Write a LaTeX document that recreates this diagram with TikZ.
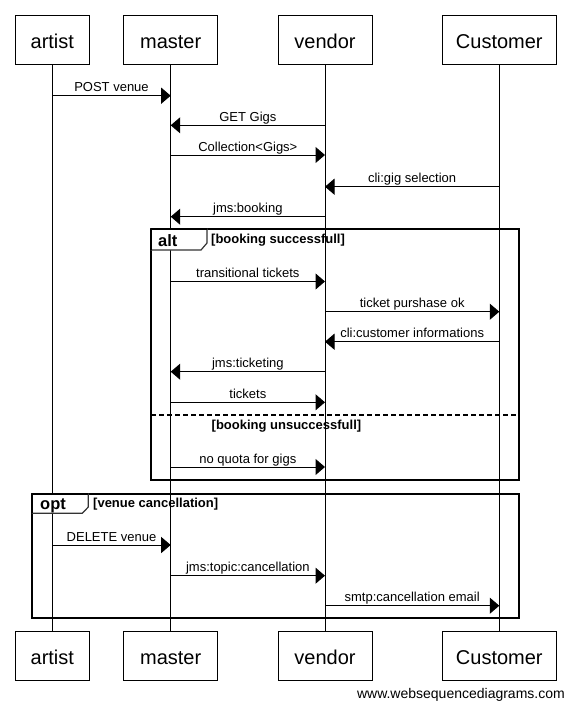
\documentclass[tikz,border=0pt]{standalone}
\usepackage{fontspec}
\setmainfont{Liberation Sans}
\usetikzlibrary{arrows.meta}
\begin{document}
\begin{tikzpicture}[x=1pt,y=-1pt,
  part/.style={draw=black, line width=1pt, fill=white, minimum height=49pt, inner sep=0pt, text height=17pt, text depth=0pt, font=\fontsize{20}{24}\selectfont},
  life/.style={line width=1pt},
  msg/.style={line width=1pt, -{Triangle[length=9.5pt,width=16pt]}},
  lbl/.style={anchor=base, yshift=4pt, inner sep=0pt, font=\fontsize{13}{15}\selectfont},
  frm/.style={line width=2pt},
  tabshape/.style={draw=black!80, line width=1.2pt, fill=white},
  tabtxt/.style={anchor=base west, inner sep=0pt, font=\fontsize{16.5}{19}\selectfont\bfseries},
  cond/.style={anchor=base west, inner sep=0pt, font=\fontsize{13}{15}\selectfont\bfseries}
]
\useasboundingbox (0,0) rectangle (572,715);
% participants top
\node[part, minimum width=74pt] (A) at (52.3,39.5) {artist};
\node[part, minimum width=94pt] (M) at (170.7,39.5) {master};
\node[part, minimum width=94pt] (V) at (325,39.5) {vendor};
\node[part, minimum width=114pt] (C) at (499.3,39.5) {Customer};
% participants bottom
\node[part, minimum width=74pt] (Ab) at (52.3,656) {artist};
\node[part, minimum width=94pt] (Mb) at (170.7,656) {master};
\node[part, minimum width=94pt] (Vb) at (325,656) {vendor};
\node[part, minimum width=114pt] (Cb) at (499.3,656) {Customer};
% lifelines
\draw[life] (A.south) -- (Ab.north);
\draw[life] (M.south) -- (Mb.north);
\draw[life] (V.south) -- (Vb.north);
\draw[life] (C.south) -- (Cb.north);
% alt frame
\draw[frm] (151,229) rectangle (519,479.5);
\path[tabshape] (151,229) -- (207,229) -- (207,243) -- (201,250) -- (151,250) -- cycle;
\draw[frm] (151,229) -- (207,229);
\draw[frm] (151,229) -- (151,250);
\node[tabtxt] (altt) at (158,246) {alt};
\node[cond] (altc1) at (211,243) {[booking successfull]};
\draw[line width=2pt, dash pattern=on 5pt off 3pt] (151,415) -- (519,415);
\node[cond] (altc2) at (211.5,429.5) {[booking unsuccessfull]};
% opt frame
\draw[frm] (32.3,494) rectangle (519,618.3);
\path[tabshape] (32.3,494) -- (88.3,494) -- (88.3,507) -- (82.3,513.3) -- (32.3,513.3) -- cycle;
\draw[frm] (32.3,494) -- (88.3,494);
\draw[frm] (32.3,494) -- (32.3,513.3);
\node[tabtxt] (optt) at (40,509) {opt};
\node[cond] (optc) at (93,507.7) {[venue cancellation]};
% messages
\draw[msg] (A |- 0,95.7) -- (M |- 0,95.7) node[midway, lbl] {POST venue};
\draw[msg] (V |- 0,125.3) -- (M |- 0,125.3) node[midway, lbl] {GET Gigs};
\draw[msg] (M |- 0,155) -- (V |- 0,155) node[midway, lbl] {Collection<Gigs>};
\draw[msg] (C |- 0,186.7) -- (V |- 0,186.7) node[midway, lbl] {cli:gig selection};
\draw[msg] (V |- 0,216.7) -- (M |- 0,216.7) node[midway, lbl] {jms:booking};
\draw[msg] (M |- 0,281.5) -- (V |- 0,281.5) node[midway, lbl] {transitional tickets};
\draw[msg] (V |- 0,311.7) -- (C |- 0,311.7) node[midway, lbl] {ticket purshase ok};
\draw[msg] (C |- 0,341.7) -- (V |- 0,341.7) node[midway, lbl] {cli:customer informations};
\draw[msg] (V |- 0,371.7) -- (M |- 0,371.7) node[midway, lbl] {jms:ticketing};
\draw[msg] (M |- 0,402.3) -- (V |- 0,402.3) node[midway, lbl] {tickets};
\draw[msg] (M |- 0,467) -- (V |- 0,467) node[midway, lbl] {no quota for gigs};
\draw[msg] (A |- 0,545) -- (M |- 0,545) node[midway, lbl] {DELETE venue};
\draw[msg] (M |- 0,575.7) -- (V |- 0,575.7) node[midway, lbl] {jms:topic:cancellation};
\draw[msg] (V |- 0,605.7) -- (C |- 0,605.7) node[midway, lbl] {smtp:cancellation email};
% footer
\node[anchor=base east, inner sep=0pt, font=\fontsize{14}{16}\selectfont] (foot) at (565,698.5) {www.websequencediagrams.com};
\end{tikzpicture}
\end{document}
